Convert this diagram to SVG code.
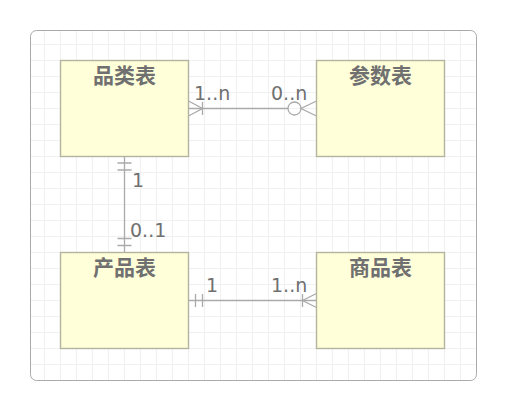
<svg xmlns="http://www.w3.org/2000/svg" width="507" height="411" viewBox="0 0 507 411">
<style>
.box{fill:#ffffd9;stroke:#b3b3a0;stroke-width:1.4}
.title{font-family:"Noto Sans CJK SC","Noto Sans",sans-serif;font-size:21px;font-weight:bold;fill:#707070;text-anchor:middle}
.lbl{font-family:"DejaVu Sans",sans-serif;font-size:19px;fill:#707070}
.ln{fill:none;stroke:#aaa;stroke-width:1.3}
</style>
<defs>
<pattern id="grid" x="0" y="0" width="16" height="16" patternUnits="userSpaceOnUse">
<path d="M12.5 0V16M0 12.5H16" stroke="#f0f0f0" stroke-width="1" fill="none"/>
</pattern>
<clipPath id="fc"><rect x="30.5" y="30.5" width="446" height="350" rx="6"/></clipPath>
</defs>
<rect width="507" height="411" fill="#fff"/>
<rect x="30.5" y="30.5" width="446" height="350" rx="6" fill="#fff"/>
<rect x="30.5" y="30.5" width="446" height="350" fill="url(#grid)" clip-path="url(#fc)"/>
<rect x="30.5" y="30.5" width="446" height="350" rx="6" fill="none" stroke="#aaa" stroke-width="1"/>
<g id="connectors">
<g id="c1">
<path class="ln" d="M188.5 108.5H288"/>
<path class="ln" d="M188.5 101L202.5 108.5L188.5 116M202.5 102V115"/>
<circle class="ln" cx="294.5" cy="108.5" r="6.5" fill="#fff"/>
<path class="ln" d="M316.5 101L301 108.5L316.5 116"/>
<text class="lbl" x="194" y="99.5">1..n</text>
<text class="lbl" x="271" y="99.5">0..n</text>
</g>
<g id="c2">
<path class="ln" d="M124.5 156.5V252.5"/>
<path class="ln" d="M117.5 163H131.5M117.5 170H131.5M117.5 238.5H131.5M117.5 245.5H131.5"/>
<text class="lbl" x="132" y="187">1</text>
<text class="lbl" x="130" y="236.5">0..1</text>
</g>
<g id="c3">
<path class="ln" d="M188.5 300.5H316.5"/>
<path class="ln" d="M195.5 294V307M202.5 294V307"/>
<path class="ln" d="M316.5 293.5L302.5 300.5L316.5 307.5M302.5 294V307"/>
<text class="lbl" x="206" y="291.5">1</text>
<text class="lbl" x="271" y="291.5">1..n</text>
</g>
</g>
<g id="n1"><rect class="box" x="60.5" y="60.5" width="128" height="96"/><text class="title" x="124.5" y="83">品类表</text></g>
<g id="n2"><rect class="box" x="316.5" y="60.5" width="128" height="96"/><text class="title" x="380.5" y="83">参数表</text></g>
<g id="n3"><rect class="box" x="60.5" y="252.5" width="128" height="96"/><text class="title" x="124.5" y="275">产品表</text></g>
<g id="n4"><rect class="box" x="316.5" y="252.5" width="128" height="96"/><text class="title" x="380.5" y="275">商品表</text></g>
</svg>
